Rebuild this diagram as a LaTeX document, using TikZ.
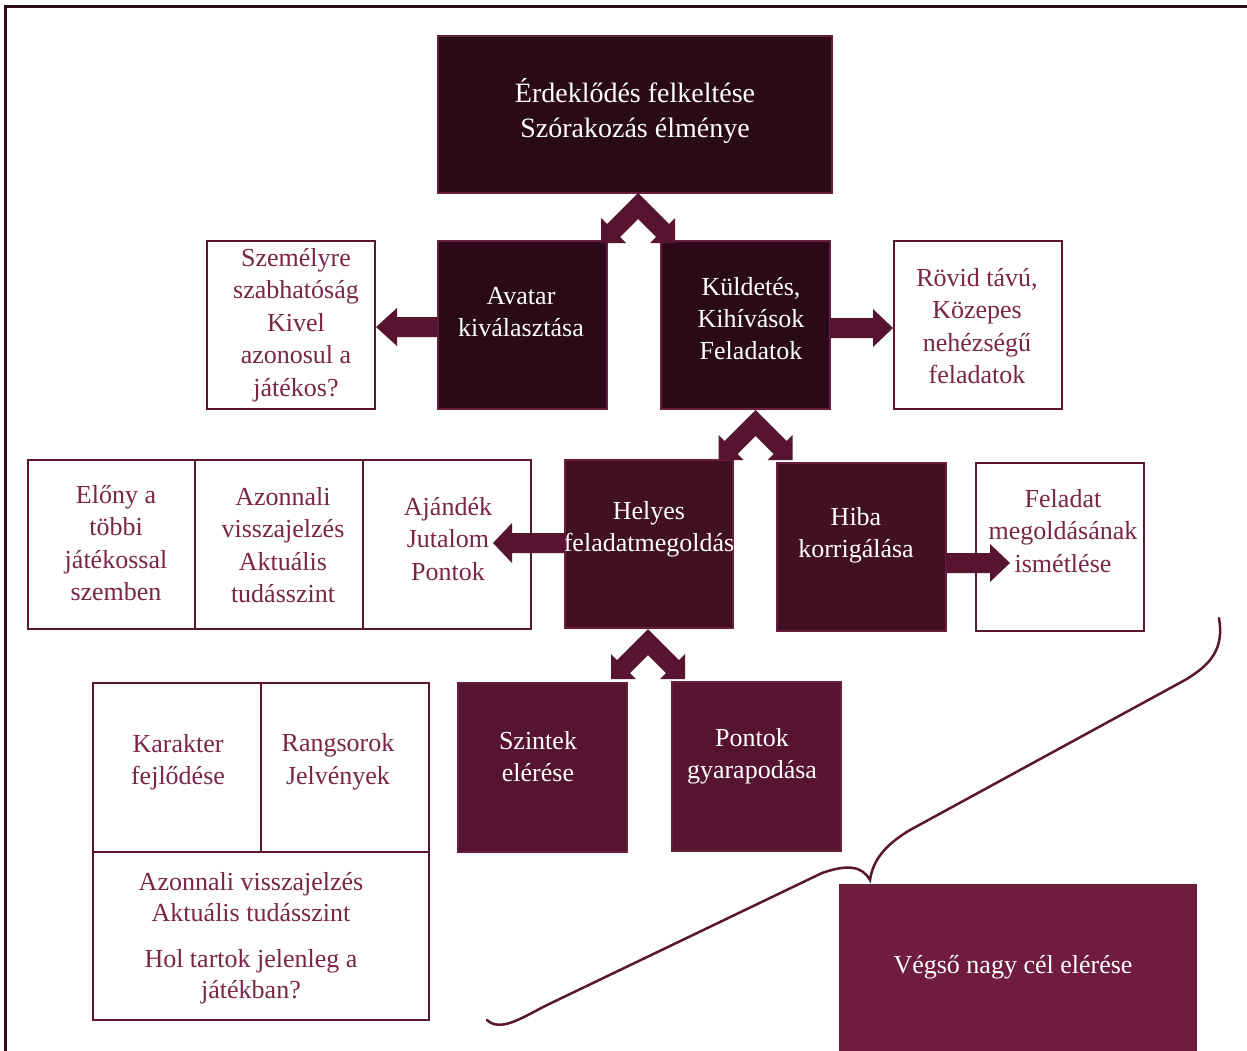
\documentclass[tikz,border=0pt]{standalone}
\usepackage{fontspec}
\setmainfont{Liberation Serif}
\usetikzlibrary{calc}
\definecolor{cTop}{HTML}{2B0A17}
\definecolor{cMid}{HTML}{421121}
\definecolor{cLow}{HTML}{56142E}
\definecolor{cGoal}{HTML}{701C3D}
\definecolor{cEdge}{HTML}{6A1E3E}
\definecolor{cLine}{HTML}{5A1530}
\definecolor{cText}{HTML}{7A2548}
\definecolor{cArrow}{HTML}{56142E}
\begin{document}
\begin{tikzpicture}[x=1pt,y=-1pt,
  box/.style={rectangle, inner sep=0pt, outer sep=0pt, anchor=north west},
  darkbox/.style={box, draw=cEdge, line width=1.2pt},
  whitebox/.style={box, draw=cLine, fill=white, line width=2.2pt},
  wtxt/.style={text=white, align=center, font=\fontsize{26}{32}\selectfont, inner sep=0pt},
  mtxt/.style={text=cText, align=center, font=\fontsize{26}{32.5}\selectfont, inner sep=0pt},
  blockarrow/.style={fill=cArrow},
  chev/.pic={\fill[cArrow] (0,0) -- (31,31) -- (37,25) -- (37,50) -- (12,50) -- (18,44) -- (0,26) -- (-18,44) -- (-12,50) -- (-37,50) -- (-37,25) -- (-31,31) -- cycle;}
]
\useasboundingbox (0,0) rectangle (1247,1050);
% frame
\draw[cTop, line width=3pt] (5,1060) -- (5,6) -- (1260,6);

% top row
\node[darkbox, fill=cTop, minimum width=394, minimum height=157] (top) at (438,36) {};
\node[wtxt, font=\fontsize{28}{35}\selectfont] (ttop) at (635,111) {Érdeklődés felkeltése\\Szórakozás élménye};

% second row
\node[darkbox, fill=cTop, minimum width=169, minimum height=168] (avatar) at (438,241) {};
\node[wtxt] (tavatar) at (521,312) {Avatar\\kiválasztása};
\node[darkbox, fill=cTop, minimum width=169, minimum height=168] (kuld) at (661,241) {};
\node[wtxt] (tkuld) at (751,319) {Küldetés,\\Kihívások\\Feladatok};
\node[whitebox, minimum width=168, minimum height=168] (szem) at (207,241) {};
\node[mtxt] (tszem) at (296,325) {Személyre\\szabhatóság\\Kivel\\azonosul a\\játékos?};
\node[whitebox, minimum width=168, minimum height=168] (rovid) at (894,241) {};
\node[mtxt] (trovid) at (977,326) {Rövid távú,\\Közepes\\nehézségű\\feladatok};

% third row
\node[whitebox, minimum width=167, minimum height=169] (elony) at (28,460) {};
\node[whitebox, minimum width=168, minimum height=169] (azon) at (195,460) {};
\node[whitebox, minimum width=168, minimum height=169] (ajand) at (363,460) {};
\node[mtxt] (telony) at (116,543) {Előny a\\többi\\játékossal\\szemben};
\node[mtxt] (tazon) at (283,545) {Azonnali\\visszajelzés\\Aktuális\\tudásszint};
\node[mtxt] (tajand) at (448,539) {Ajándék\\Jutalom\\Pontok};

\node[darkbox, fill=cMid, minimum width=168, minimum height=168] (helyes) at (565,460) {};
\node[wtxt] (thelyes) at (649,529) {Helyes\\feladatmegoldás};
\node[darkbox, fill=cMid, minimum width=169, minimum height=168] (hiba) at (777,463) {};
\node[wtxt] (thiba) at (856,535) {Hiba\\korrigálása};
\node[whitebox, minimum width=168, minimum height=168] (felad) at (976,463) {};
\node[mtxt] (tfelad) at (1063,531) {Feladat\\megoldásának\\ismétlése};

% fourth row
\node[darkbox, fill=cLow, minimum width=169, minimum height=169] (szint) at (458,683) {};
\node[wtxt] (tszint) at (538,757) {Szintek\\elérése};
\node[darkbox, fill=cLow, minimum width=169, minimum height=169] (pont) at (672,682) {};
\node[wtxt] (tpont) at (752,756) {Pontok\\gyarapodása};

\node[whitebox, minimum width=168, minimum height=169] (karak) at (93,683) {};
\node[whitebox, minimum width=168, minimum height=169] (rang) at (261,683) {};
\node[whitebox, minimum width=336, minimum height=168] (hol) at (93,852) {};
\node[mtxt] (tkarak) at (178,762) {Karakter\\fejlődése};
\node[mtxt] (trang) at (338,762) {Rangsorok\\Jelvények};
\node[mtxt, font=\fontsize{26}{30.5}\selectfont] (thol) at (251,938) {Azonnali visszajelzés\\Aktuális tudásszint\\[16pt]Hol tartok jelenleg a\\játékban?};

\node[darkbox, fill=cGoal, minimum width=356, minimum height=180] (goal) at (840,885) {};
\node[wtxt] (tgoal) at (1013,967) {Végső nagy cél elérése};

% block arrows
\fill[blockarrow, shift={($(avatar.west)+(0,2)$)}] (0,-10) -- (-41,-10) -- (-41,-19) -- (-62,0) -- (-41,19) -- (-41,10) -- (0,10) -- cycle;
\fill[blockarrow, shift={($(kuld.east)+(0,3)$)}] (0,-10) -- (43,-10) -- (43,-19) -- (63,0) -- (43,19) -- (43,10) -- (0,10) -- cycle;
\fill[blockarrow, shift={($(helyes.west)+(0,-1)$)}] (0,-10) -- (-53,-10) -- (-53,-20) -- (-72,0) -- (-53,20) -- (-53,10) -- (0,10) -- cycle;
\fill[blockarrow, shift={($(hiba.east)+(0,16)$)}] (0,-10) -- (44,-10) -- (44,-19) -- (64,0) -- (44,19) -- (44,10) -- (0,10) -- cycle;

% chevron double arrows
\pic at ($(top.south)+(3,0)$) {chev};
\pic at ($(kuld.south)+(10,1)$) {chev};
\pic at ($(helyes.south)+(-1,1)$) {chev};

% brace
\coordinate (bA) at (1219,618);
\coordinate (bB) at (487,1020);
\draw[cLine, line width=2.5pt, line cap=round] (bA) .. controls (1224,648) and (1212,664) .. (1185,680) -- (910,830) .. controls (885,845) and (873,860) .. (870,880) .. controls (862,866) and (848,864) .. (822,873) -- (545,1006) .. controls (520,1019) and (500,1032) .. (bB);
\end{tikzpicture}
\end{document}
